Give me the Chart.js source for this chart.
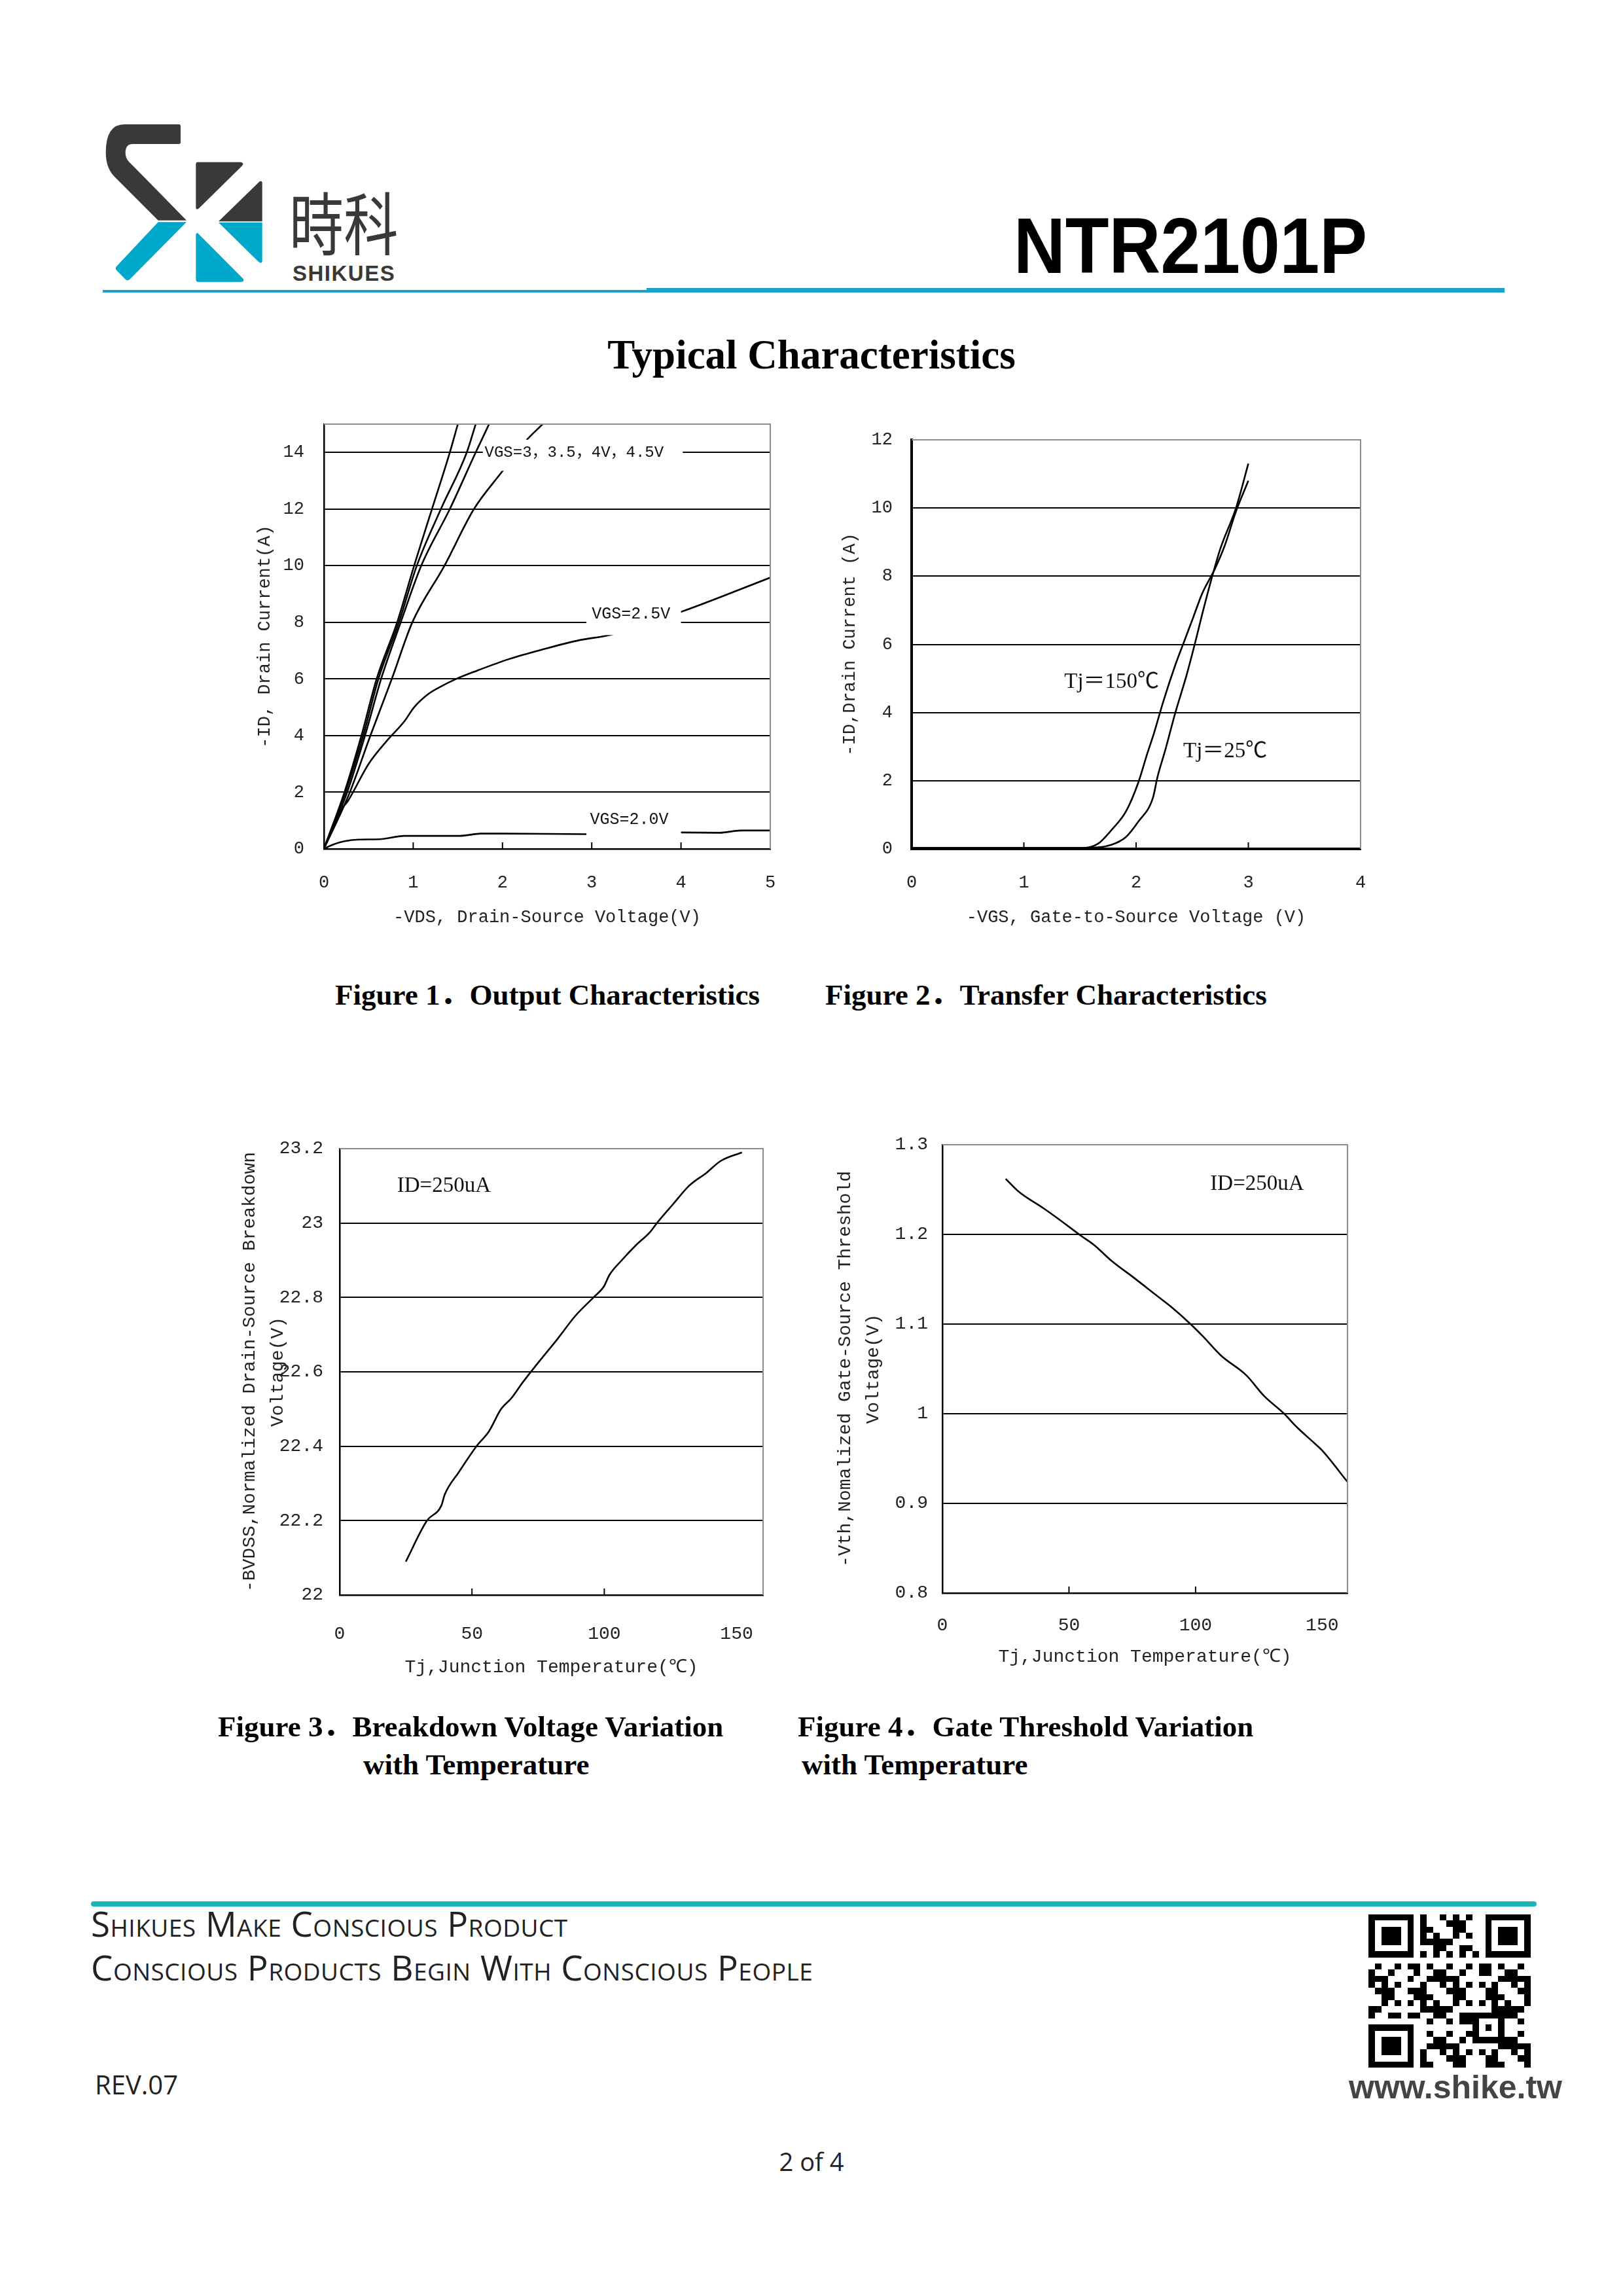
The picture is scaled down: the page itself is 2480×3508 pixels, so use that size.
<!DOCTYPE html>
<html>
<head>
<meta charset="utf-8">
<title>NTR2101P - Typical Characteristics</title>
<script src="https://cdn.jsdelivr.net/npm/chart.js@4.4.1/dist/chart.umd.min.js"></script>
<style>
  html, body { margin: 0; padding: 0; background: #fff; }
  #page { position: relative; width: 2480px; height: 3508px; overflow: hidden; background: #fff; }
  .abs { position: absolute; white-space: nowrap; line-height: 1; }
  canvas { position: absolute; }
  .cap { font-family: 'Liberation Serif', 'Noto Sans CJK SC', serif; font-weight: bold; font-size: 45px; color: #000; }
  .foot { font-family: 'Open Sans', sans-serif; color: #222; }
  .sc { font-variant: small-caps; font-size: 53px; letter-spacing: 0.5px; }
</style>
</head>
<body>
<div id="page">
  <!-- header -->
  <svg class="abs" style="left:150px;top:180px" width="270" height="270" viewBox="0 0 810 810">
    <path fill="#3b3838" d="M120 30 L370 30 Q378 30 378 40 L378 112 Q378 120 370 120 L160 120 Q125 120 125 160 Q125 185 140 200 L405 470 L275 470 L75 270 Q35 230 35 160 Q35 30 120 30 Z"/>
    <path fill="#00a8c9" d="M275 478 L405 478 L145 740 Q135 750 125 740 L85 700 Q75 690 85 680 Z"/>
    <path fill="#3b3838" d="M455 203 L655 203 Q670 207 660 220 L462 415 Q448 425 448 410 L448 213 Q448 203 455 203 Z"/>
    <path fill="#3b3838" d="M740 292 Q752 287 752 300 L752 475 L552 475 Z"/>
    <path fill="#00a8c9" d="M552 480 L752 480 L752 655 Q752 672 735 660 Z"/>
    <path fill="#00a8c9" d="M458 530 L665 738 Q672 752 655 752 L458 752 Q448 752 448 740 L448 540 Q448 524 458 530 Z"/>
  </svg>
  <div class="abs" style="left:442px;top:285px;font-family:'Noto Sans CJK TC',sans-serif;font-weight:400;font-size:104px;color:#3b3838;transform:scaleX(0.8);transform-origin:left center;">時科</div>
  <div class="abs" style="left:447px;top:401px;font-family:'Liberation Sans',sans-serif;font-weight:bold;font-size:33px;letter-spacing:1.5px;color:#3b3838;">SHIKUES</div>
  <div class="abs" style="left:1549px;top:315px;font-family:'Liberation Sans',sans-serif;font-weight:bold;font-size:120px;color:#000;transform:scaleX(0.91);transform-origin:left center;">NTR2101P</div>
  <div class="abs" style="left:157px;top:443px;width:831px;height:4px;background:#1ba2c5;"></div>
  <div class="abs" style="left:988px;top:440px;width:1311px;height:7px;background:#1ba2c5;"></div>

  <div class="abs" style="left:0;width:2480px;text-align:center;top:511px;font-family:'Liberation Serif',serif;font-weight:bold;font-size:63px;color:#000;">Typical Characteristics</div>

  <canvas id="fig1"></canvas>
  <canvas id="fig2"></canvas>
  <canvas id="fig3"></canvas>
  <canvas id="fig4"></canvas>

  <div class="abs cap" style="left:512px;top:1498px;">Figure 1．Output Characteristics</div>
  <div class="abs cap" style="left:1261px;top:1498px;">Figure 2．Transfer Characteristics</div>
  <div class="abs cap" style="left:333px;top:2616px;">Figure 3．Breakdown Voltage Variation</div>
  <div class="abs cap" style="left:555px;top:2674px;">with Temperature</div>
  <div class="abs cap" style="left:1219px;top:2616px;">Figure 4．Gate Threshold Variation</div>
  <div class="abs cap" style="left:1225px;top:2674px;">with Temperature</div>

  <!-- footer -->
  <div class="abs" style="left:139px;top:2905px;width:2209px;height:8px;border-radius:4px;background:#1db4b4;"></div>
  <div class="abs foot sc" style="left:139px;top:2912px;">Shikues Make Conscious Product</div>
  <div class="abs foot sc" style="left:139px;top:2979px;">Conscious Products Begin With Conscious People</div>
  <div class="abs foot" style="left:145px;top:3165px;font-size:40px;">REV.07</div>
  <svg id="qr" class="abs" style="left:2091px;top:2925px" width="248" height="234" viewBox="0 0 25 25" preserveAspectRatio="none" shape-rendering="crispEdges"></svg>
  <div class="abs" style="left:2061px;top:3164px;font-family:'Liberation Sans',sans-serif;font-weight:bold;font-size:50px;color:#444;">www.shike.tw</div>
  <div class="abs foot" style="left:0;width:2480px;text-align:center;top:3283px;font-size:38px;">2 of 4</div>
</div>

<script>
// ---- Figure 1: output characteristics (-VDS, -ID) ----
const vdsTicks = [0, 1, 2, 3, 4, 5];
const idTicks1 = [0, 2, 4, 6, 8, 10, 12, 14];
const vgs45 = [[0, 0], [0.23, 2], [0.42, 4], [0.59, 6], [0.82, 8], [1.01, 10], [1.21, 12], [1.41, 14], [1.5, 15]];
const vgs40 = [[0, 0], [0.24, 2], [0.44, 4], [0.61, 6], [0.84, 8], [1.04, 10], [1.31, 12], [1.6, 14], [1.7, 15]];
const vgs35 = [[0, 0], [0.26, 2], [0.46, 4], [0.64, 6], [0.86, 8], [1.09, 10], [1.41, 12], [1.7, 14], [1.85, 15]];
const vgs30 = [[0, 0], [0.29, 2], [0.52, 4], [0.76, 6], [0.99, 8], [1.35, 10], [1.68, 12], [1.99, 13.3], [2.26, 14.4], [2.45, 15]];
const vgs25 = [[0, 0], [0.15, 1.2], [0.27, 1.7], [0.5, 3.0], [0.7, 3.8], [0.9, 4.5], [1.01, 5.0], [1.17, 5.47],
               [1.29, 5.7], [1.48, 6.0], [1.72, 6.3], [2.07, 6.7], [2.47, 7.06], [2.86, 7.37], [3.21, 7.56],
               [4.0, 8.37], [5.0, 9.58]];
const vgs20 = [[0, 0], [0.1, 0.15], [0.23, 0.27], [0.39, 0.33], [0.62, 0.34], [0.9, 0.46], [1.52, 0.46],
               [1.76, 0.54], [2.0, 0.54], [2.94, 0.52], [4.0, 0.58], [4.43, 0.57], [4.67, 0.65], [5.0, 0.65]];

// ---- Figure 2: transfer characteristics (-VGS, -ID) ----
const vgsTicks = [0, 1, 2, 3, 4];
const idTicks2 = [0, 2, 4, 6, 8, 10, 12];
const tj150 = [[0, 0.03], [1.53, 0.03], [1.66, 0.15], [1.78, 0.55], [1.91, 1.1], [2.02, 1.95], [2.1, 2.8],
               [2.16, 3.4], [2.24, 4.3], [2.35, 5.4], [2.43, 6.1], [2.51, 6.8], [2.59, 7.5], [2.7, 8.2],
               [2.79, 8.9], [2.89, 9.9], [3.0, 10.8]];
const tj25 = [[0, 0.03], [1.56, 0.03], [1.78, 0.12], [1.91, 0.35], [2.02, 0.8], [2.15, 1.5], [2.19, 2.1],
              [2.26, 2.9], [2.35, 4.0], [2.45, 5.1], [2.53, 6.1], [2.59, 6.9], [2.67, 7.9], [2.75, 8.8],
              [2.89, 10.0], [3.0, 11.3]];

// ---- Figure 3: breakdown voltage vs Tj ----
const tjTicks = [0, 50, 100, 150];
const bvTicks = [22, 22.2, 22.4, 22.6, 22.8, 23, 23.2];
const bvdss = [[25, 22.09], [33, 22.2], [38.4, 22.24], [39.7, 22.27], [45, 22.33], [51.7, 22.4], [56.4, 22.44],
               [61, 22.5], [65, 22.53], [69, 22.57], [74.5, 22.62], [82.5, 22.69], [89, 22.75], [95.9, 22.8],
               [99.9, 22.83], [101.9, 22.86], [106.6, 22.9], [111.9, 22.94], [117.2, 22.975], [119.9, 23.0],
               [125.9, 23.05], [132, 23.1], [138.6, 23.135], [144, 23.167], [152, 23.19]];

// ---- Figure 4: gate threshold vs Tj ----
const vthTicks = [0.8, 0.9, 1, 1.1, 1.2, 1.3];
const vth = [[25, 1.262], [30, 1.248], [40, 1.229], [45, 1.219], [55, 1.198], [60, 1.188], [67, 1.17],
             [75, 1.153], [85, 1.131], [90, 1.12], [98, 1.1], [103, 1.086], [110, 1.065], [120, 1.043],
             [127, 1.02], [135, 1.0], [140, 0.985], [147, 0.967], [150, 0.959], [160, 0.924]];

Chart.defaults.font.family = "'Liberation Mono', monospace";
Chart.defaults.color = '#222';

const pts = arr => arr.map(([x, y]) => ({x: x, y: y}));
const fmt = v => (Math.abs(v - Math.round(v)) < 1e-9 ? String(Math.round(v)) : v.toFixed(1));

// white-backed text labels in data coordinates (they break the grid line / curve like the original)
const boxLabels = {
  id: 'boxLabels',
  afterDraw(chart, args, opts) {
    const {ctx, scales: {x, y}} = chart;
    (opts.items || []).forEach(it => {
      ctx.save();
      if (it.box) {
        const x0 = x.getPixelForValue(it.box[0]), x1 = x.getPixelForValue(it.box[1]);
        const y0 = y.getPixelForValue(it.box[2]), y1 = y.getPixelForValue(it.box[3]);
        ctx.fillStyle = '#fff';
        ctx.fillRect(x0, y1, x1 - x0, y0 - y1);
      }
      ctx.font = it.font;
      ctx.fillStyle = '#111';
      ctx.textAlign = 'left';
      ctx.textBaseline = 'middle';
      ctx.fillText(it.text, x.getPixelForValue(it.x), y.getPixelForValue(it.y));
      ctx.restore();
    });
  }
};

// grey top/right frame and short inward tick marks on the x axis
const frame = {
  id: 'frame',
  afterDraw(chart) {
    const {ctx, chartArea: a, scales: {x}} = chart;
    ctx.save();
    ctx.strokeStyle = '#8c8c8c';
    ctx.lineWidth = 2;
    ctx.beginPath();
    ctx.moveTo(a.left, a.top);
    ctx.lineTo(a.right, a.top);
    ctx.lineTo(a.right, a.bottom);
    ctx.stroke();
    ctx.strokeStyle = '#000';
    x.ticks.slice(1, -1).forEach(t => {
      const px = x.getPixelForValue(t.value);
      ctx.beginPath();
      ctx.moveTo(px, a.bottom);
      ctx.lineTo(px, a.bottom - 10);
      ctx.stroke();
    });
    ctx.restore();
  }
};

function curve(arr) {
  return {data: pts(arr), showLine: true, borderColor: '#000', borderWidth: 2.6, pointRadius: 0,
          fill: false, cubicInterpolationMode: 'monotone'};
}

function buildChart(id, g) {
  // place the canvas so the plot area lands on g.left/top/right/bottom
  const padTop = 60, padRight = 60;
  const canvas = document.getElementById(id);
  canvas.width = (g.right - g.left) + g.yAxisW + padRight;
  canvas.height = (g.bottom - g.top) + padTop + g.xAxisH;
  canvas.style.left = (g.left - g.yAxisW) + 'px';
  canvas.style.top = (g.top - padTop) + 'px';

  return new Chart(canvas, {
    type: 'scatter',
    data: {datasets: g.series.map(curve)},
    plugins: [boxLabels, frame],
    options: {
      responsive: false,
      animation: false,
      devicePixelRatio: 1,
      layout: {padding: {top: padTop, right: padRight, left: 0, bottom: 0}},
      plugins: {legend: {display: false}, tooltip: {enabled: false}, boxLabels: {items: g.labels}},
      scales: {
        x: {
          type: 'linear', min: g.xMin, max: g.xMax,
          afterBuildTicks: a => { a.ticks = g.xTicks.map(v => ({value: v})); },
          afterFit: a => { a.height = g.xAxisH; },
          grid: {drawOnChartArea: false, drawTicks: false},
          border: {color: '#000', width: g.axisW},
          ticks: {padding: g.xTickPad, font: {size: g.tickSize}, color: '#222', maxRotation: 0, autoSkip: false,
                  callback: v => fmt(v)},
          title: {display: true, text: g.xTitle, font: {size: g.titleSize}, color: '#222',
                  padding: {top: 0, bottom: g.xTitlePad}}
        },
        y: {
          type: 'linear', min: g.yMin, max: g.yMax,
          afterBuildTicks: a => { a.ticks = g.yTicks.map(v => ({value: v})); },
          afterFit: a => { a.width = g.yAxisW; },
          grid: {drawTicks: false, lineWidth: 2,
                 color: c => (c.tick && Math.abs(c.tick.value - g.yMax) < 1e-9 ? 'rgba(0,0,0,0)' : '#000')},
          border: {color: '#000', width: g.axisW},
          ticks: {padding: g.yTickPad, font: {size: g.tickSize}, color: '#222', autoSkip: false,
                  callback: v => fmt(v)},
          title: {display: true, text: g.yTitle, font: {size: g.titleSize, lineHeight: g.titleLH}, color: '#222',
                  padding: {top: g.yTitlePad, bottom: 0}}
        }
      }
    }
  });
}

const monoLabel = "25px 'Liberation Mono', monospace";
const serifLabel = "33px 'Liberation Serif', 'Noto Sans CJK SC', serif";

buildChart('fig1', {
  series: [vgs45, vgs40, vgs35, vgs30, vgs25, vgs20],
  left: 495, right: 1177, top: 648, bottom: 1297, yAxisW: 165, xAxisH: 163,
  xMin: 0, xMax: 5, yMin: 0, yMax: 15, xTicks: vdsTicks, yTicks: idTicks1, axisW: 2.5,
  tickSize: 27, titleSize: 27, titleLH: 1.2, xTickPad: 36, yTickPad: 30, xTitlePad: 42, yTitlePad: 59,
  xTitle: '-VDS, Drain-Source Voltage(V)', yTitle: '-ID, Drain Current(A)',
  labels: [
    {text: 'VGS=3，3.5，4V，4.5V', x: 1.80, y: 14, box: [1.78, 4.02, 13.35, 14.45], font: "24px 'Liberation Mono', 'Noto Sans CJK SC', monospace"},
    {text: 'VGS=2.5V', x: 3.0, y: 8.29, box: [2.94, 4.0, 7.55, 8.7], font: monoLabel},
    {text: 'VGS=2.0V', x: 2.98, y: 1.02, box: [2.94, 4.0, 0.35, 1.45], font: monoLabel}
  ]
});

buildChart('fig2', {
  series: [tj150, tj25],
  left: 1393, right: 2079, top: 672, bottom: 1297, yAxisW: 153, xAxisH: 163,
  xMin: 0, xMax: 4, yMin: 0, yMax: 12, xTicks: vgsTicks, yTicks: idTicks2, axisW: 4,
  tickSize: 27, titleSize: 27, titleLH: 1.2, xTickPad: 36, yTickPad: 29, xTitlePad: 42, yTitlePad: 43,
  xTitle: '-VGS, Gate-to-Source Voltage (V)', yTitle: '-ID,Drain Current (A)',
  labels: [
    {text: 'Tj＝150℃', x: 1.36, y: 4.89, font: serifLabel},
    {text: 'Tj＝25℃', x: 2.42, y: 2.85, font: serifLabel}
  ]
});

buildChart('fig3', {
  series: [bvdss],
  left: 519, right: 1166, top: 1755, bottom: 2437, yAxisW: 179, xAxisH: 183,
  xMin: 0, xMax: 160, yMin: 22, yMax: 23.2, xTicks: tjTicks, yTicks: bvTicks, axisW: 2.5,
  tickSize: 28, titleSize: 28, titleLH: 43 / 28, xTickPad: 43, yTickPad: 25, xTitlePad: 56, yTitlePad: 20,
  xTitle: 'Tj,Junction Temperature(℃)', yTitle: ['-BVDSS,Normalized Drain-Source Breakdown', 'Voltage(V)'],
  labels: [{text: 'ID=250uA', x: 21.7, y: 23.1, font: serifLabel}]
});

buildChart('fig4', {
  series: [vth],
  left: 1440, right: 2059, top: 1749, bottom: 2434, yAxisW: 200, xAxisH: 186,
  xMin: 0, xMax: 160, yMin: 0.8, yMax: 1.3, xTicks: tjTicks, yTicks: vthTicks, axisW: 2.5,
  tickSize: 28, titleSize: 28, titleLH: 43 / 28, xTickPad: 33, yTickPad: 22, xTitlePad: 72, yTitlePad: 30,
  xTitle: 'Tj,Junction Temperature(℃)', yTitle: ['-Vth,Nomalized Gate-Source Threshold', 'Voltage(V)'],
  labels: [{text: 'ID=250uA', x: 105.8, y: 1.256, font: serifLabel}]
});

// decorative QR-style block
(function drawQr() {
  const svg = document.getElementById('qr');
  const n = 25;
  const on = (r, c) => {
    for (const [r0, c0] of [[0, 0], [0, 18], [18, 0]]) {
      const dr = r - r0, dc = c - c0;
      if (dr >= 0 && dc >= 0 && dr <= 6 && dc <= 6) {
        return Math.max(Math.abs(dr - 3), Math.abs(dc - 3)) !== 2;
      }
    }
    if ((r === 7 && (c <= 7 || c >= 17)) || (c === 7 && (r <= 7 || r >= 17)) ||
        (c === 17 && r <= 7) || (r === 17 && c <= 7)) return false;
    if (r >= 16 && r <= 20 && c >= 16 && c <= 20) {
      return Math.max(Math.abs(r - 18), Math.abs(c - 18)) !== 1;
    }
    if (r === 6) return c % 2 === 0;
    if (c === 6) return r % 2 === 0;
    return ((r * 31 + c * 17 + r * c * 7) % 11) < 5;
  };
  let d = '';
  for (let r = 0; r < n; r++) {
    for (let c = 0; c < n; c++) {
      if (on(r, c)) d += 'M' + c + ' ' + r + 'h1v1h-1z';
    }
  }
  const p = document.createElementNS('http://www.w3.org/2000/svg', 'path');
  p.setAttribute('d', d);
  p.setAttribute('fill', '#000');
  svg.appendChild(p);
})();
</script>
</body>
</html>
